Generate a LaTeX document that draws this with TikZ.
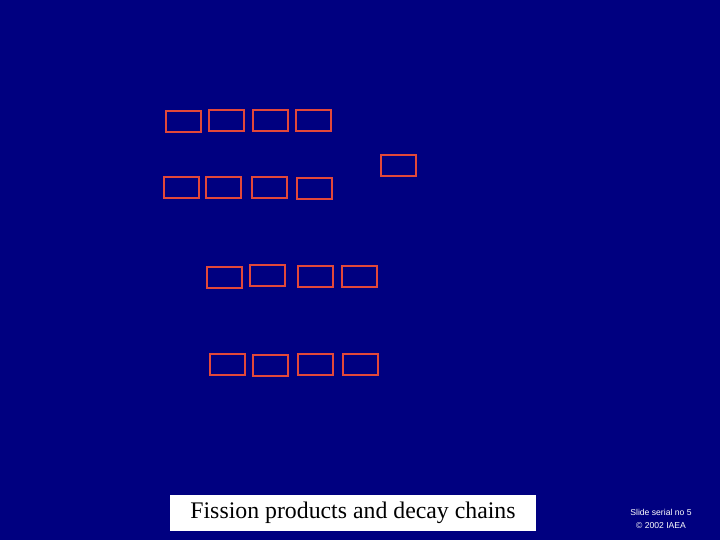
\documentclass[tikz,border=0pt]{standalone}
\usepackage{fontspec}
\setmainfont{Liberation Serif}
\newfontfamily\notefont{Liberation Sans}
\usetikzlibrary{calc}
\definecolor{slideblue}{RGB}{0,0,128}
\definecolor{boxred}{RGB}{226,72,58}

\begin{document}
\begin{tikzpicture}[x=1pt,y=-1pt,
	chainbox/.style={draw=boxred, line width=2pt, minimum width=35pt, minimum height=21pt, inner sep=0pt}]
	\fill[slideblue] (0,0) rectangle (720,540);
	\useasboundingbox (0,0) rectangle (720,540);
	
	% first chain
	\node[chainbox] (a1) at (183,121.5) {};
	\node[chainbox] (a2) at (226,121) {};
	\node[chainbox] (a3) at (270,121) {};
	\node[chainbox] (a4) at (313.5,121) {};
	
	% second chain
	\node[chainbox] (b1) at (181,188) {};
	\node[chainbox] (b2) at (223.5,188) {};
	\node[chainbox] (b3) at (269,188) {};
	\node[chainbox] (b4) at (314.5,189) {};
	
	\node[chainbox] (c) at (398,166) {};
	
	% third chain
	\node[chainbox] (d1) at (224.5,277.5) {};
	\node[chainbox] (d2) at (267.5,275.5) {};
	\node[chainbox] (d3) at (315,276) {};
	\node[chainbox] (d4) at (359.5,276) {};
	
	% fourth chain
	\node[chainbox] (e1) at (227.5,364.5) {};
	\node[chainbox] (e2) at (270,365.5) {};
	\node[chainbox] (e3) at (315,364.5) {};
	\node[chainbox] (e4) at (360,364.5) {};
	
	% caption and footer
	\node[fill=white, minimum width=366pt, minimum height=36pt, inner sep=0pt, font=\fontsize{23.8}{26}\selectfont] (title) at (353,513) {Fission products and decay chains};
	\node[white, align=center, inner sep=0pt, font=\notefont\fontsize{8.6}{13}\selectfont] (note) at (661,518.5) {Slide serial no 5\\\textcopyright\ 2002 IAEA};
\end{tikzpicture}
\end{document}
